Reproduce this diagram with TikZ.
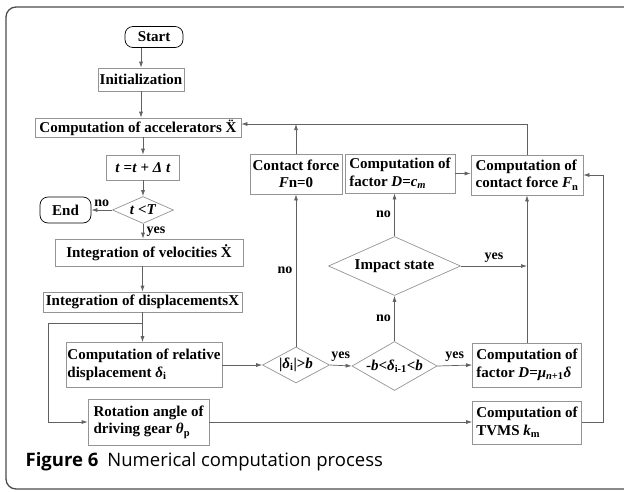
\documentclass[tikz,border=0pt]{standalone}
\usepackage{fontspec}
\setmainfont{Liberation Serif}
\newfontfamily\capfont{Open Sans}
\usetikzlibrary{shapes.geometric,arrows.meta}

\definecolor{linegray}{gray}{0.38}
\definecolor{boxgray}{gray}{0.58}
\definecolor{framegray}{gray}{0.3}

\newcommand{\lowsub}[1]{\textsubscript{#1}}
\newcommand{\xdot}{\iffontchar\font"1E8A \symbol{"1E8A}\else\ooalign{X\cr\hidewidth\raisebox{0.6em}{.}\hidewidth\cr}\fi}
\newcommand{\xddot}{\iffontchar\font"1E8C \symbol{"1E8C}\else\ooalign{X\cr\hidewidth\raisebox{0.6em}{.\kern0.04em.}\hidewidth\cr}\fi}

\tikzset{
  proc/.style={draw=boxgray,line width=0.7pt,inner sep=1pt,font=\bfseries\fontsize{15}{17.5}\selectfont},
  term/.style={proc,draw=black,rounded corners=8pt},
  cond/.style={proc,diamond,aspect=2.2,inner sep=0pt},
  lbl/.style={font=\bfseries\fontsize{14}{16}\selectfont}
}

\begin{document}
\begin{tikzpicture}[x=1pt,y=-1pt,>={Latex[length=6pt,width=4pt]},line width=0.7pt]
        \clip(0,0)rectangle(624,491);
        \useasboundingbox(0,0)rectangle(624,491);
        \draw[framegray,line width=1.3pt,rounded corners=10pt](6,7)rectangle(660,489);

        % left column
        \node[term,minimum width=58,minimum height=21](start)at(154,37){Start};
        \node[proc,minimum width=86,minimum height=23](init)at(141,79.5){Initialization};
        \node[proc,minimum width=206,minimum height=19](accel)at(138,127.5){Computation of accelerators \xddot};
        \node[proc,minimum width=73,minimum height=25](tstep)at(143,167.5){\textit{t} =\textit{t} + \textit{Δ t}};
        \node[cond,minimum width=61,minimum height=27](tcheck)at(143,210){\textit{t} <\textit{T}};
        \node[term,minimum width=51,minimum height=26](end)at(65.5,210){End};
        \node[proc,minimum width=188,minimum height=27](velo)at(149,252.5){Integration of velocities \xdot};
        \node[proc,minimum width=199,minimum height=20](disp)at(142.5,302){Integration of displacements\textbf{X}};
        \node[proc,minimum width=156,minimum height=45,align=left](reldisp)at(144,365){Computation of relative\\displacement \textit{δ}\lowsub{i}};
        \node[proc,minimum width=121,minimum height=46,align=left](rot)at(148.5,422){Rotation angle of\\driving gear \textit{θ}\lowsub{p}};

        % middle and right
        \node[cond,minimum width=67,minimum height=36](dcheck)at(296,365){|\textit{δ}\lowsub{i}|>\textit{b}};
        \node[proc,minimum width=92,minimum height=40,align=center](fzero)at(296,174){Contact force\\\textit{F}n=0};
        \node[proc,minimum width=110,minimum height=39,align=left](dcm)at(400,173.5){Computation of\\factor \textit{D}=\textit{c\lowsub{m}}};
        \node[proc,minimum width=112,minimum height=40,align=left](fn)at(527,175){Computation of\\contact force \textit{F}\lowsub{n}};
        \node[cond,minimum width=132,minimum height=59](impact)at(394.5,266){Impact state};
        \node[cond,minimum width=83,minimum height=49](prev)at(394.5,366){-\textit{b}<\textit{δ}\lowsub{i-1}<\textit{b}};
        \node[proc,minimum width=109,minimum height=44,align=left](dmu)at(527,365){Computation of\\factor \textit{D}=\textit{μ}\lowsub{\textit{n}+1}\textit{δ}};
        \node[proc,minimum width=109,minimum height=43,align=left](tvms)at(527,422.5){Computation of\\TVMS \textit{k}\lowsub{m}};

        \coordinate(split)at(142.5,323);
        \coordinate(bend)at(48,323);
        \coordinate(loop)at(527,124);
        \coordinate(rloop)at(603,422.5);

        \draw[->,linegray](start.south-|init.north)--(init.north);
        \draw[->,linegray](init.south)--(init.south|-accel.north);
        \draw[->,linegray](accel.south-|tstep.north)--(tstep.north);
        \draw[->,linegray](tstep.south)--(tcheck.north);
        \draw[->,linegray](tcheck.west)--(end.east)node[lbl,midway,above,black]{no};
        \draw[->,linegray](tcheck.south)--(tcheck.south|-velo.north)node[lbl,midway,right,black]{yes};
        \draw[->,linegray](disp.north|-velo.south)--(disp.north);
        \draw[->,linegray](disp.south)--(disp.south|-reldisp.north);
        \draw[->,linegray](split)--(bend)|-(rot.west);
        \draw[->,linegray](reldisp.east)--(dcheck.west);
        \draw[->,linegray](dcheck.north)--(fzero.south)node[lbl,midway,left,black]{no};
        \draw[->,linegray](fzero.north)--(fzero.north|-loop);
        \draw[->,linegray](fn.north)--(loop)--(accel.east|-loop);
        \draw[->,linegray](dcheck.east)--(prev.west)node[lbl,midway,above,black]{yes};
        \draw[->,linegray](prev.north)--(impact.south)node[lbl,midway,left,black]{no};
        \draw[->,linegray](impact.north)--(impact.north|-dcm.south)node[lbl,midway,left,black]{no};
        \draw[->,linegray](impact.east)--(impact.east-|fn.south)node[lbl,midway,above,black]{yes};
        \draw[->,linegray](prev.east)--(dmu.west)node[lbl,midway,above,black]{yes};
        \draw[->,linegray](dmu.north)--(fn.south);
        \draw[->,linegray](dcm.east)--(dcm.east-|fn.west);
        \draw[->,linegray](tvms.east)--(rloop)|-(fn.east);
        \draw[->,linegray](rot.east)--(rot.east-|tvms.west);

        \node[anchor=base west,font=\capfont\fontsize{18.5}{21}\selectfont](caption)at(22,466){\textbf{Figure 6}\hspace{9pt}Numerical computation process};
    \end{tikzpicture}
\end{document}
